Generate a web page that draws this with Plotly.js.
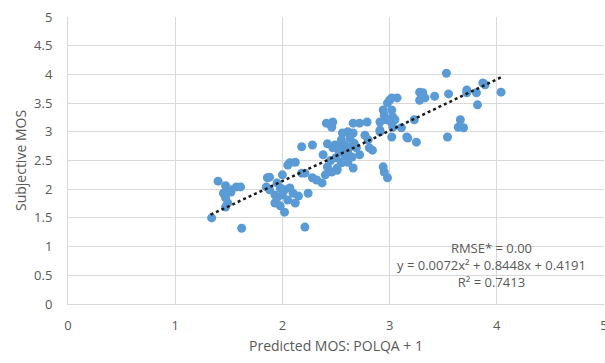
<!DOCTYPE html>
<html>
<head>
<meta charset="utf-8">
<script src="https://cdn.plot.ly/plotly-3.0.1.min.js"></script>
<style>html,body{margin:0;padding:0;background:#fff;}#chart{width:605px;height:363px;}</style>
</head>
<body>
<div id="chart"></div>
<script>
// Predicted MOS (POLQA + 1)
const predicted = [
  1.34,1.40,1.47,1.51,1.57,1.61,1.45,1.47,1.49,1.47,1.62,1.52,
  1.86,1.85,1.88,1.95,1.93,1.98,2.00,1.95,1.93,1.98,2.02,2.02,2.05,2.07,2.10,2.12,
  2.00,2.05,2.07,2.12,2.18,2.21,2.18,2.28,2.28,2.32,2.37,2.24,2.21,2.15,1.88,
  2.42,2.47,2.55,2.60,2.42,2.46,2.51,2.55,2.58,2.61,2.47,2.46,2.41,2.66,2.72,2.79,
  2.56,2.61,2.66,2.77,2.55,2.63,2.67,2.49,2.58,2.63,2.69,2.53,2.61,2.65,2.72,2.56,
  2.66,2.51,2.84,2.80,2.81,2.40,2.45,2.50,2.38,
  3.02,3.07,2.98,2.94,2.95,3.02,3.03,2.97,2.91,3.02,3.03,2.91,3.02,3.17,3.11,3.16,
  3.25,3.23,2.94,2.95,2.98,3.00,3.05,2.91,
  3.53,3.28,3.31,3.30,3.33,3.28,3.42,3.55,3.72,3.72,3.87,3.89,3.81,4.04,3.82,3.66,
  3.64,3.69,3.54
];
// Subjective MOS
const subjective = [
  1.50,2.14,2.06,1.99,2.04,2.04,1.93,1.85,1.76,1.69,1.32,1.95,
  2.20,2.04,1.99,2.11,1.90,2.02,1.90,1.85,1.76,1.71,1.60,1.99,1.81,2.02,1.93,1.76,
  2.25,2.42,2.46,2.47,2.28,2.28,2.74,2.77,2.20,2.16,2.11,1.93,1.34,1.88,2.21,
  2.79,2.72,2.77,2.68,2.39,2.30,2.33,2.46,2.60,2.47,3.17,3.08,3.15,3.15,3.15,3.17,
  2.98,3.00,2.98,2.94,2.86,2.89,2.80,2.77,2.77,2.74,2.72,2.65,2.63,2.56,2.60,2.47,
  2.37,2.37,2.68,2.86,2.72,2.25,2.50,2.55,2.60,
  3.59,3.59,3.50,3.38,3.29,3.38,3.26,3.21,3.17,3.15,3.08,3.00,2.91,2.89,3.07,2.91,
  2.82,3.21,2.39,2.30,2.20,3.55,3.21,3.03,
  4.02,3.69,3.68,3.61,3.59,3.55,3.62,3.66,3.73,3.68,3.85,3.82,3.68,3.69,3.47,3.21,
  3.08,3.07,2.91
];
// Polynomial trendline y = a*x^2 + b*x + c (from the chart's equation)
const trendCoef = [0.0072, 0.8448, 0.4191];
const trendRange = [1.33, 4.04];
const annotationLines = ["RMSE* = 0.00", "y = 0.0072x\u00b2 + 0.8448x + 0.4191", "R\u00b2 = 0.7413"];
const xTicks = [0, 1, 2, 3, 4, 5];
const yTicks = [0, 0.5, 1, 1.5, 2, 2.5, 3, 3.5, 4, 4.5, 5];

const tx = [], ty = [];
const n = 60;
for (let i = 0; i <= n; i++) {
  const x = trendRange[0] + (trendRange[1] - trendRange[0]) * i / n;
  tx.push(x);
  ty.push(trendCoef[0] * x * x + trendCoef[1] * x + trendCoef[2]);
}

const font = "Open Sans, Liberation Sans, sans-serif";
const grey = "#595959";

const data = [
  {x: predicted, y: subjective, type: "scatter", mode: "markers",
   marker: {color: "#5B9BD5", size: 9}, hoverinfo: "none", showlegend: false},
  {x: tx, y: ty, type: "scatter", mode: "lines",
   line: {color: "#1a1a1a", width: 2.5, dash: "dot"}, hoverinfo: "none", showlegend: false}
];

const layout = {
  width: 605, height: 363,
  margin: {l: 68, r: 1, t: 17, b: 59},
  paper_bgcolor: "#ffffff", plot_bgcolor: "#ffffff",
  font: {family: font, color: grey, size: 13},
  xaxis: {
    range: [0, 5], tickvals: xTicks, ticktext: xTicks.map(String),
    showgrid: true, gridcolor: "#D9D9D9", gridwidth: 1,
    zeroline: false, showline: true, linecolor: "#D9D9D9", linewidth: 1,
    ticks: "outside", ticklen: 9, tickcolor: "rgba(0,0,0,0)",
    ticklabeloverflow: "allow", automargin: false,
    tickfont: {family: font, color: grey, size: 13},
    title: {text: "Predicted MOS: POLQA + 1", font: {family: font, color: grey, size: 14}, standoff: 8}
  },
  yaxis: {
    range: [0, 5], tickvals: yTicks, ticktext: yTicks.map(String),
    showgrid: true, gridcolor: "#D9D9D9", gridwidth: 1,
    zeroline: false, showline: true, linecolor: "#D9D9D9", linewidth: 1,
    ticks: "outside", ticklen: 12, tickcolor: "rgba(0,0,0,0)",
    tickfont: {family: font, color: grey, size: 13},
    title: {text: "Subjective MOS", font: {family: font, color: grey, size: 14}, standoff: 4}
  },
  annotations: [{
    xref: "paper", yref: "paper", x: 0.791, y: 0.136,
    xanchor: "center", yanchor: "middle", showarrow: false, align: "center",
    text: annotationLines.join("<br>"),
    font: {family: font, color: grey, size: 13}
  }]
};

Plotly.newPlot("chart", data, layout, {staticPlot: true, displayModeBar: false});
</script>
</body>
</html>
